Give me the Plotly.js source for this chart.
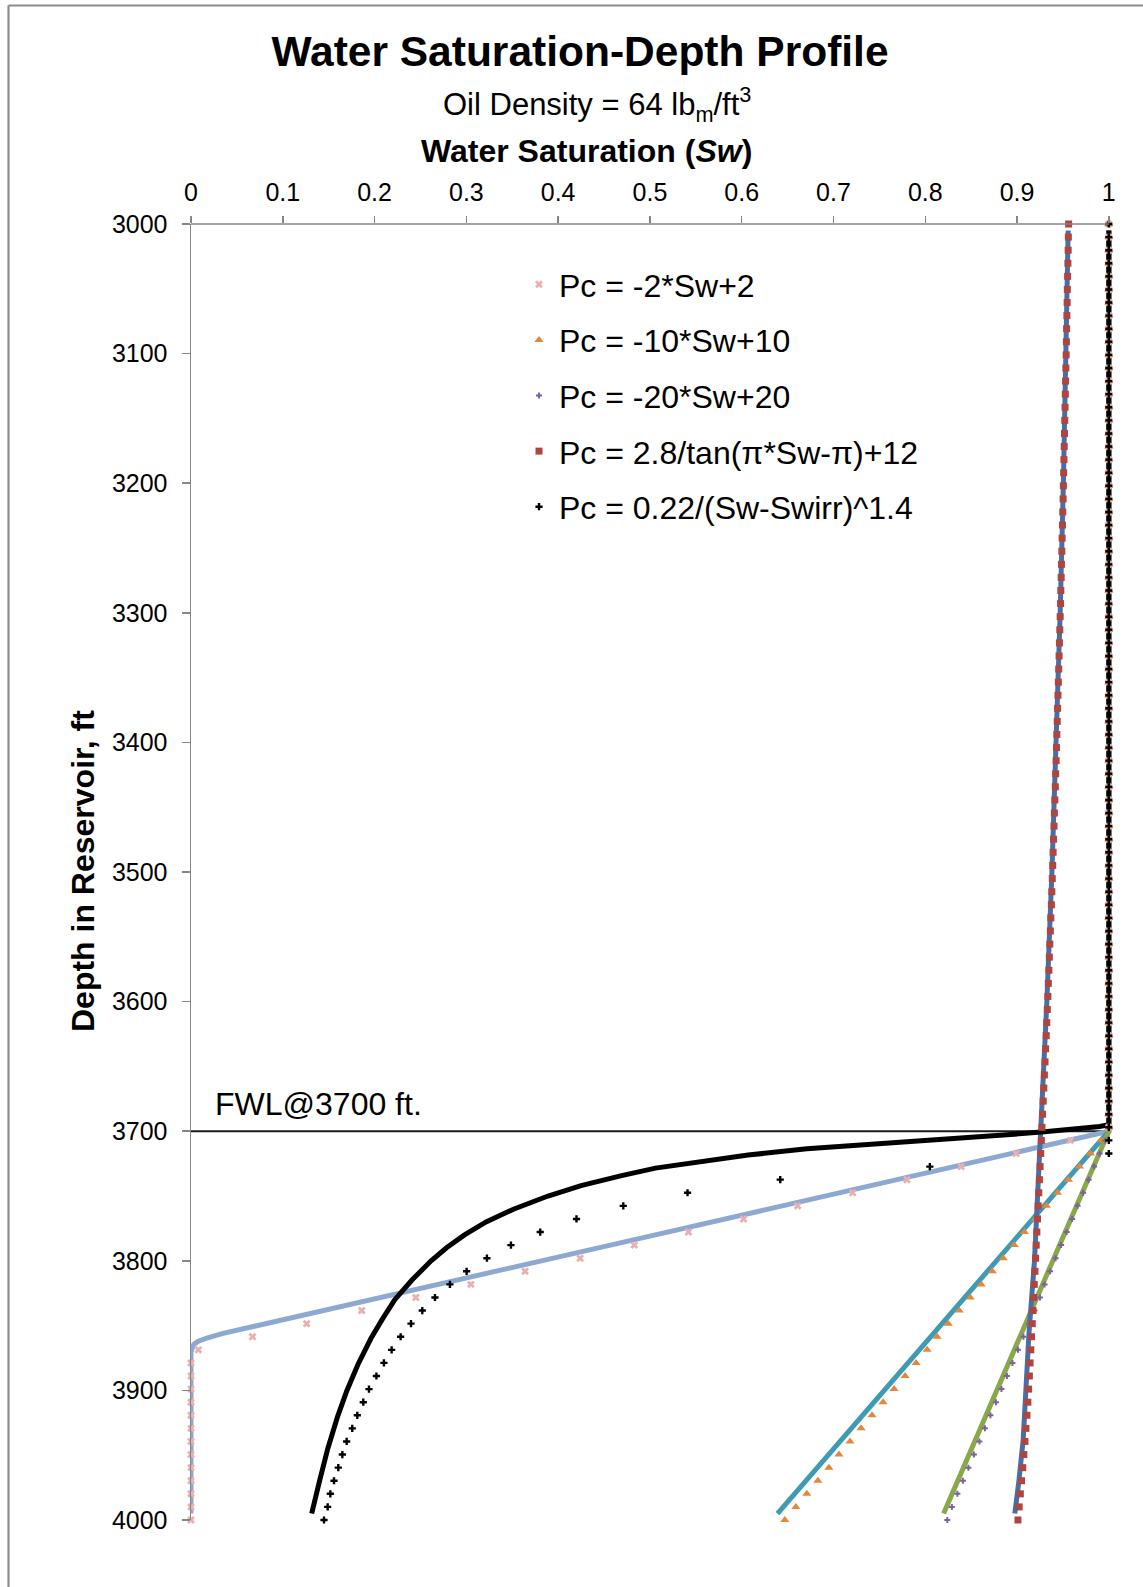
<!DOCTYPE html>
<html><head><meta charset="utf-8">
<script src="https://cdn.plot.ly/plotly-3.0.1.min.js"></script>
<style>html,body{margin:0;padding:0;background:#fff;} #chart{width:1143px;height:1587px;}</style>
</head><body><div id="chart"></div><script>
// ---- data ----
const depthFt = [
 3000.0,3010.1,3020.2,3030.3,3040.4,3050.5,3060.6,3070.7,3080.8,3090.9,
 3101.0,3111.1,3121.2,3131.3,3141.4,3151.5,3161.6,3171.7,3181.8,3191.9,
 3202.0,3212.1,3222.2,3232.3,3242.4,3252.5,3262.6,3272.7,3282.8,3292.9,
 3303.0,3313.1,3323.2,3333.3,3343.4,3353.5,3363.6,3373.7,3383.8,3393.9,
 3404.0,3414.1,3424.2,3434.3,3444.4,3454.5,3464.6,3474.7,3484.8,3494.9,
 3505.1,3515.2,3525.3,3535.4,3545.5,3555.6,3565.7,3575.8,3585.9,3596.0,
 3606.1,3616.2,3626.3,3636.4,3646.5,3656.6,3666.7,3676.8,3686.9,3697.0,
 3707.1,3717.2,3727.3,3737.4,3747.5,3757.6,3767.7,3777.8,3787.9,3798.0,
 3808.1,3818.2,3828.3,3838.4,3848.5,3858.6,3868.7,3878.8,3888.9,3899.0,
 3909.1,3919.2,3929.3,3939.4,3949.5,3959.6,3969.7,3979.8,3989.9,4000.0];

const swPc2 = [
 1,1,1,1,1,1,1,1,1,1, 1,1,1,1,1,1,1,1,1,1, 1,1,1,1,1,1,1,1,1,1,
 1,1,1,1,1,1,1,1,1,1, 1,1,1,1,1,1,1,1,1,1, 1,1,1,1,1,1,1,1,1,1,
 1,1,1,1,1,1,1,1,1,1,
 0.958,0.899,0.839,0.780,0.721,0.661,0.602,0.542,0.483,0.424,
 0.364,0.305,0.245,0.186,0.126,0.067,0.008,0,0,0,
 0,0,0,0,0,0,0,0,0,0];

const swPc10 = [
 1,1,1,1,1,1,1,1,1,1, 1,1,1,1,1,1,1,1,1,1, 1,1,1,1,1,1,1,1,1,1,
 1,1,1,1,1,1,1,1,1,1, 1,1,1,1,1,1,1,1,1,1, 1,1,1,1,1,1,1,1,1,1,
 1,1,1,1,1,1,1,1,1,1,
 0.992,0.980,0.968,0.956,0.944,0.932,0.920,0.908,0.897,0.885,
 0.873,0.861,0.849,0.837,0.825,0.813,0.802,0.790,0.778,0.766,
 0.754,0.742,0.730,0.718,0.706,0.695,0.683,0.671,0.659,0.647];

const swPc20 = [
 1,1,1,1,1,1,1,1,1,1, 1,1,1,1,1,1,1,1,1,1, 1,1,1,1,1,1,1,1,1,1,
 1,1,1,1,1,1,1,1,1,1, 1,1,1,1,1,1,1,1,1,1, 1,1,1,1,1,1,1,1,1,1,
 1,1,1,1,1,1,1,1,1,1,
 0.996,0.990,0.984,0.978,0.972,0.966,0.960,0.954,0.948,0.942,
 0.936,0.930,0.925,0.919,0.913,0.907,0.901,0.895,0.889,0.883,
 0.877,0.871,0.865,0.859,0.853,0.847,0.841,0.835,0.829,0.824];

const swPcTan = [
 0.9562,0.9559,0.9557,0.9554,0.9551,0.9548,0.9546,0.9543,0.9540,0.9538,
 0.9535,0.9532,0.9529,0.9526,0.9523,0.9520,0.9517,0.9514,0.9511,0.9508,
 0.9505,0.9502,0.9498,0.9495,0.9491,0.9488,0.9484,0.9481,0.9477,0.9474,
 0.9470,0.9466,0.9462,0.9458,0.9454,0.9450,0.9446,0.9442,0.9438,0.9434,
 0.9430,0.9426,0.9421,0.9417,0.9412,0.9407,0.9403,0.9398,0.9393,0.9389,
 0.9384,0.9379,0.9374,0.9368,0.9363,0.9357,0.9352,0.9347,0.9341,0.9336,
 0.9330,0.9324,0.9318,0.9311,0.9305,0.9298,0.9292,0.9285,0.9278,0.9272,
 0.9265,0.9258,0.9251,0.9244,0.9237,0.9230,0.9223,0.9216,0.9209,0.9202,
 0.9195,0.9188,0.9181,0.9174,0.9166,0.9158,0.9150,0.9142,0.9134,0.9126,
 0.9118,0.9108,0.9097,0.9086,0.9074,0.9062,0.9049,0.9036,0.9023,0.9010];

const swPcPow = [
 1,1,1,1,1,1,1,1,1,1, 1,1,1,1,1,1,1,1,1,1, 1,1,1,1,1,1,1,1,1,1,
 1,1,1,1,1,1,1,1,1,1, 1,1,1,1,1,1,1,1,1,1, 1,1,1,1,1,1,1,1,1,1,
 1,1,1,1,1,1,1,1,1,1,
 1,1,0.805,0.642,0.541,0.471,0.420,0.3805,0.3486,0.3224,
 0.3003,0.2821,0.2658,0.2520,0.2397,0.2284,0.2186,0.2102,0.2020,0.1939,
 0.1877,0.1812,0.1757,0.1696,0.1649,0.1605,0.1558,0.1518,0.1489,0.1449];

// continuous curves (lines, no legend entry)
const lineDepthPc2 = [3005,3700,3781,3851,3856,3859.5,3862,3864.5,3867,3870,3995];
const lineSwPc2    = [1,1,0.5,0.064,0.035,0.018,0.008,0.003,0.001,0,0];
const lineDepthPc10 = [3005,3700,3995];
const lineSwPc10    = [1,1,0.639];
const lineDepthPc20 = [3005,3700,3995];
const lineSwPc20    = [1,1,0.820];
const lineDepthTan = [3005,3100,3200,3300,3400,3500,3600,3700,3750,3800,3856,3938,3970,3995];
const lineSwTan    = [0.9557,0.9535,0.9505,0.947,0.943,0.938,0.9325,0.926,0.9225,0.919,0.913,0.9067,0.902,0.8976];
const lineDepthPow = [3005,3695,3696.3,3698,3700.4,3702.3,3704.3,3706.5,3709.4,3713.6,3718.4,3723.5,3728.5,3734.5,3742,3750,3760,3770,3780,3790,3800,3815,3830,3845,3860,3880,3900,3920,3945,3970,3995];
const lineSwPow    = [1,1,0.99,0.968,0.93,0.897,0.86,0.81,0.748,0.671,0.607,0.553,0.506,0.468,0.425,0.389,0.352,0.3215,0.298,0.2784,0.2616,0.2405,0.222,0.2085,0.196,0.1819,0.1699,0.1598,0.149,0.140,0.1315];

const fwlSw = [0,1];
const fwlDepth = [3700,3700];

const seriesNames = ['Pc = -2*Sw+2','Pc = -10*Sw+10','Pc = -20*Sw+20','Pc = 2.8/tan(\u03c0*Sw-\u03c0)+12','Pc = 0.22/(Sw-Swirr)^1.4'];
const xTicks = [0,0.1,0.2,0.3,0.4,0.5,0.6,0.7,0.8,0.9,1];
const xTickText = ['0','0.1','0.2','0.3','0.4','0.5','0.6','0.7','0.8','0.9','1'];
const yTicks = [3000,3100,3200,3300,3400,3500,3600,3700,3800,3900,4000];
const yTickText = ['3000','3100','3200','3300','3400','3500','3600','3700','3800','3900','4000'];

// ---- styling ----
const FONT = 'Liberation Sans, Arial, Helvetica, sans-serif';
const W = 1143, H = 1587, ML = 191, MR = 25, MT = 224, MB = 67;
const XMAX = 1.01;
const plotW = W - ML - MR, plotH = H - MT - MB;
const px = v => (v - ML) / plotW;     // pixel -> paper x
const py = v => (H - MB - v) / plotH; // pixel -> paper y

function lineTrace(x, y, color, width) {
  return {x, y, type:'scatter', mode:'lines', line:{color, width}, showlegend:false, hoverinfo:'skip'};
}
function markerTrace(x, y, name, symbol, color, size, group) {
  return {x, y, name, type:'scatter', mode:'markers', cliponaxis:false, legendgroup:group,
          marker:{symbol, color, size, line:{width:0}}};
}

const traces = [
  {x:fwlSw, y:fwlDepth, type:'scatter', mode:'lines', line:{color:'#1a1a1a', width:2}, showlegend:false, hoverinfo:'skip'},
  lineTrace(lineSwPc2, lineDepthPc2, '#8DA8D1', 5),
  lineTrace(lineSwPc10, lineDepthPc10, '#3F9BB4', 5),
  lineTrace(lineSwPc20, lineDepthPc20, '#88A84A', 5),
  lineTrace(lineSwTan, lineDepthTan, '#4470A9', 5),
  lineTrace(lineSwPow, lineDepthPow, '#000000', 5),
  markerTrace(swPc2, depthFt, seriesNames[0], 'x', '#E8B1B0', 7, 'a'),
  markerTrace(swPc10, depthFt, seriesNames[1], 'triangle-up', '#E4873A', 8, 'b'),
  markerTrace(swPc20, depthFt, seriesNames[2], 'cross', '#7E61A1', 5, 'c'),
  markerTrace(swPcTan, depthFt, seriesNames[3], 'square', '#B0443F', 7, 'd'),
  markerTrace(swPcPow, depthFt, seriesNames[4], 'cross', '#000000', 6, 'e')
];

const layout = {
  width: W, height: H,
  margin: {l:ML, r:MR, t:MT, b:MB},
  paper_bgcolor:'#ffffff', plot_bgcolor:'#ffffff',
  font: {family: FONT, color:'#000000'},
  title: {text:'<b>Water Saturation-Depth Profile</b>', font:{family:FONT, size:42.5, color:'#000'},
          x: 580/W, xanchor:'center', xref:'container', y: 1 - 51/H, yanchor:'middle', yref:'container'},
  showlegend: true,
  legend: {x: px(519), y: py(257), xanchor:'left', yanchor:'top', bgcolor:'rgba(0,0,0,0)',
           font:{family:FONT, size:32, color:'#000'}, tracegroupgap:11, traceorder:'grouped'},
  xaxis: {range:[0, XMAX], side:'top', tickvals:xTicks, ticktext:xTickText, showgrid:false, zeroline:false,
          showline:false, ticks:'outside', ticklen:7, tickwidth:1.5, tickcolor:'#868686',
          tickfont:{family:FONT, size:25, color:'#000'}, ticklabelstandoff:5, fixedrange:true},
  yaxis: {range:[4000, 3000], tickvals:yTicks, ticktext:yTickText, showgrid:false, zeroline:false,
          showline:true, linecolor:'#868686', linewidth:1.5, ticks:'outside', ticklen:8, tickwidth:1.5, tickcolor:'#868686',
          tickfont:{family:FONT, size:25, color:'#000'}, ticklabelstandoff:9, fixedrange:true},
  shapes: [
    {type:'line', xref:'x', yref:'paper', x0:0, x1:1, y0:1, y1:1, line:{color:'#868686', width:1.5}},
    {type:'line', xref:'paper', yref:'paper', x0:px(8.5), x1:px(1160), y0:py(5.5), y1:py(5.5), line:{color:'#8B8B8B', width:2.2}},
    {type:'line', xref:'paper', yref:'paper', x0:px(8.5), x1:px(8.5), y0:py(5.5), y1:py(1600), line:{color:'#8B8B8B', width:2.2}}
  ],
  annotations: [
    {text:'Oil Density = 64 lb<sub>m</sub>/ft<sup>3</sup>', xref:'paper', yref:'paper', x:px(597), y:py(104),
     xanchor:'center', yanchor:'middle', showarrow:false, font:{family:FONT, size:31, color:'#000'}},
    {text:'<b>Water Saturation (<i>Sw</i>)</b>', xref:'paper', yref:'paper', x:px(586), y:py(151),
     xanchor:'center', yanchor:'middle', showarrow:false, font:{family:FONT, size:32, color:'#000'}},
    {text:'<b>Depth in Reservoir, ft</b>', xref:'paper', yref:'paper', x:px(83), y:py(871), textangle:-90,
     xanchor:'center', yanchor:'middle', showarrow:false, font:{family:FONT, size:32, color:'#000'}},
    {text:'FWL@3700 ft.', xref:'paper', yref:'paper', x:px(213), y:py(1104),
     xanchor:'left', yanchor:'middle', showarrow:false, font:{family:FONT, size:32, color:'#000'}}
  ]
};

Plotly.newPlot('chart', traces, layout, {staticPlot:true, displayModeBar:false});
</script></body></html>
